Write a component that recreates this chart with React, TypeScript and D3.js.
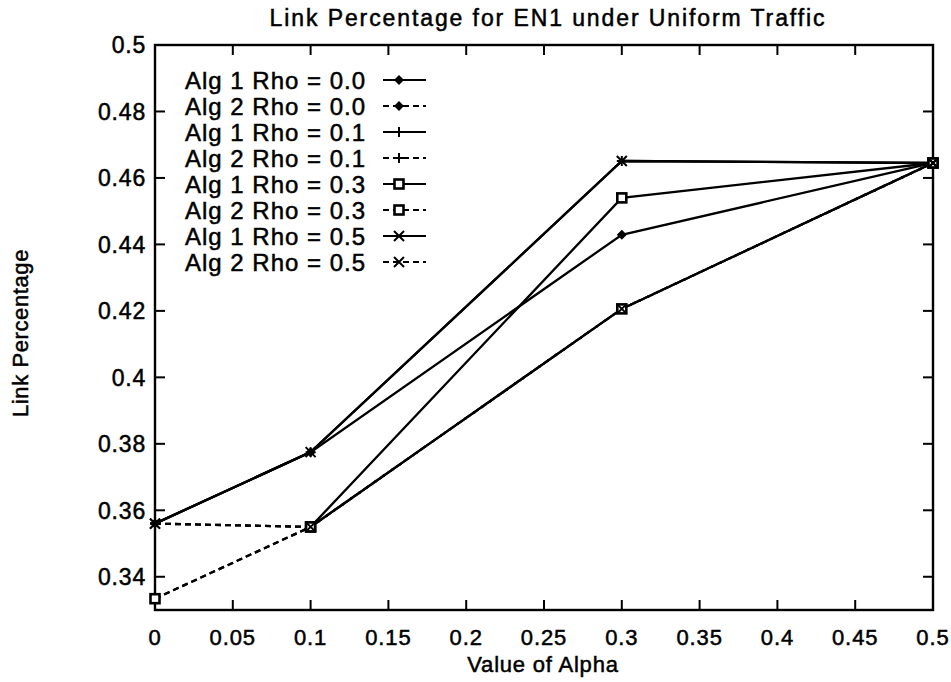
import React from "react";
import * as d3 from "d3";

const alphas = [0, 0.1, 0.3, 0.5];
const xTicks = [0, 0.05, 0.1, 0.15, 0.2, 0.25, 0.3, 0.35, 0.4, 0.45, 0.5];
const yTicks = [0.34, 0.36, 0.38, 0.4, 0.42, 0.44, 0.46, 0.48, 0.5];
const yTickLabels = ["0.34", "0.36", "0.38", "0.4", "0.42", "0.44", "0.46", "0.48", "0.5"];
const xTickLabels = ["0", "0.05", "0.1", "0.15", "0.2", "0.25", "0.3", "0.35", "0.4", "0.45", "0.5"];

const seriesNames = [
  "Alg 1 Rho = 0.0",
  "Alg 2 Rho = 0.0",
  "Alg 1 Rho = 0.1",
  "Alg 2 Rho = 0.1",
  "Alg 1 Rho = 0.3",
  "Alg 2 Rho = 0.3",
  "Alg 1 Rho = 0.5",
  "Alg 2 Rho = 0.5",
];
const alg1Rho00 = [0.356, 0.3775, 0.4429, 0.4645];
const alg2Rho00 = [0.3334, 0.355, 0.4206, 0.4645];
const alg1Rho01 = [0.356, 0.3775, 0.4651, 0.4645];
const alg2Rho01 = [0.356, 0.355, 0.4206, 0.4645];
const alg1Rho03 = [null, 0.355, 0.454, 0.4645];
const alg2Rho03 = [0.3334, 0.355, 0.4206, 0.4645];
const alg1Rho05 = [0.356, 0.3775, 0.4651, 0.4645];
const alg2Rho05 = [0.356, 0.355, 0.4206, 0.4645];
const seriesValues = [alg1Rho00, alg2Rho00, alg1Rho01, alg2Rho01, alg1Rho03, alg2Rho03, alg1Rho05, alg2Rho05];
const seriesMarkers = ["diamond", "diamond", "plus", "plus", "box", "box", "cross", "cross"];
const seriesDashed = [false, true, false, true, false, true, false, true];

const FONT = "'Liberation Sans', Arial, Helvetica, sans-serif";
const TS = { stroke: "#000", strokeWidth: 0.5 };

function Marker({ type, cx, cy }: { type: string; cx: number; cy: number }) {
  const s = 5;
  if (type === "diamond") {
    return <path d={`M${cx},${cy - s}L${cx + s},${cy}L${cx},${cy + s}L${cx - s},${cy}Z`} fill="#000" />;
  }
  if (type === "plus") {
    return <path d={`M${cx - s},${cy}H${cx + s}M${cx},${cy - s}V${cy + s}`} stroke="#000" strokeWidth={2} fill="none" />;
  }
  if (type === "box") {
    return <rect x={cx - 4.5} y={cy - 4.5} width={9} height={9} stroke="#000" strokeWidth={2.6} fill="#fff" />;
  }
  return <path d={`M${cx - s},${cy - s}L${cx + s},${cy + s}M${cx - s},${cy + s}L${cx + s},${cy - s}`} stroke="#000" strokeWidth={2} fill="none" />;
}

export default function App() {
  const W = 951, H = 682;
  const x = d3.scaleLinear().domain([0, 0.5]).range([155, 933]);
  const y = d3.scaleLinear().domain([0.33, 0.5]).range([610, 45]);
  const line = d3
    .line<[number, number | null]>()
    .defined((d) => d[1] != null)
    .x((d) => x(d[0]))
    .y((d) => y(d[1] as number));

  const left = x(0), right = x(0.5), top = y(0.5), bottom = y(0.33);
  const tickLen = 10;
  const legendY0 = 80, legendStep = 26;

  return (
    <svg width={W} height={H} style={{ position: "absolute", left: 0, top: 0, background: "#fff" }} fontFamily={FONT}>
      <rect x={0} y={0} width={W} height={H} fill="#fff" />
      {/* title */}
      <text x={548} y={18} dy="0.36em" textAnchor="middle" fontSize={23} letterSpacing={1.9} fill="#000" {...TS}>
        Link Percentage for EN1 under Uniform Traffic
      </text>
      {/* ticks */}
      {yTicks.map((t, i) => (
        <g key={"yt" + i}>
          <line x1={left} x2={left + tickLen} y1={y(t)} y2={y(t)} stroke="#000" strokeWidth={2} />
          <line x1={right} x2={right - tickLen} y1={y(t)} y2={y(t)} stroke="#000" strokeWidth={2} />
          <text x={146} y={y(t)} dy="0.36em" textAnchor="end" fontSize={23} letterSpacing={0.8} fill="#000" {...TS}>
            {yTickLabels[i]}
          </text>
        </g>
      ))}
      {xTicks.map((t, i) => (
        <g key={"xt" + i}>
          <line x1={x(t)} x2={x(t)} y1={bottom} y2={bottom - tickLen} stroke="#000" strokeWidth={2} />
          <line x1={x(t)} x2={x(t)} y1={top} y2={top + tickLen} stroke="#000" strokeWidth={2} />
          <text x={x(t)} y={637} dy="0.36em" textAnchor="middle" fontSize={22} letterSpacing={0.9} fill="#000" {...TS}>
            {xTickLabels[i]}
          </text>
        </g>
      ))}
      {/* frame */}
      <rect x={left} y={top} width={right - left} height={bottom - top} fill="none" stroke="#000" strokeWidth={2.4} />
      {/* axis titles */}
      <text x={543} y={664} dy="0.36em" textAnchor="middle" fontSize={22} letterSpacing={0.8} fill="#000" {...TS}>
        Value of Alpha
      </text>
      <text
        transform={`translate(20,333) rotate(-90)`}
        textAnchor="middle"
        dy="0.36em"
        fontSize={22}
        letterSpacing={0.6}
        fill="#000"
        {...TS}
      >
        Link Percentage
      </text>
      {/* series lines */}
      {seriesValues.map((vals, si) => {
        const pts = alphas.map((a, i) => [a, vals[i]] as [number, number | null]);
        return (
          <path
            key={"l" + si}
            d={line(pts) || ""}
            fill="none"
            stroke="#000"
            strokeWidth={2.3}
            strokeDasharray={seriesDashed[si] ? "6,4" : undefined}
          />
        );
      })}
      {/* markers */}
      {seriesValues.map((vals, si) =>
        alphas.map((a, i) =>
          vals[i] == null ? null : (
            <Marker key={`m${si}-${i}`} type={seriesMarkers[si]} cx={x(a)} cy={y(vals[i] as number)} />
          )
        )
      )}
      {/* legend */}
      {seriesNames.map((name, i) => {
        const ly = legendY0 + i * legendStep;
        return (
          <g key={"lg" + i}>
            <text x={185} y={ly} dy="0.36em" fontSize={24} letterSpacing={1} fill="#000" {...TS}>
              {name}
            </text>
            <line
              x1={383}
              x2={426}
              y1={ly}
              y2={ly}
              stroke="#000"
              strokeWidth={2.2}
              strokeDasharray={seriesDashed[i] ? "6,4" : undefined}
            />
            <Marker type={seriesMarkers[i]} cx={399} cy={ly} />
          </g>
        );
      })}
    </svg>
  );
}
